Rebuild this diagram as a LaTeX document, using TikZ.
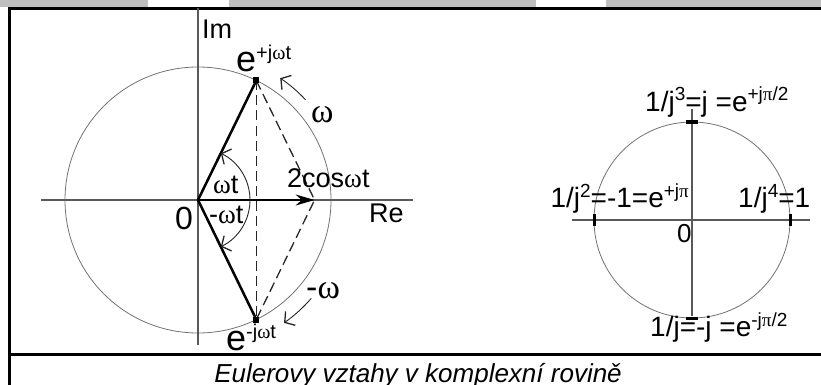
\documentclass[tikz,border=0pt]{standalone}
\usepackage{fontspec}
\setmainfont{Liberation Sans}
\newfontfamily\grk{Liberation Serif}
\usetikzlibrary{arrows.meta,calc}
\newcommand{\om}{{\grk ω}}
\newcommand{\pigr}{{\grk π}}
\newcommand{\hi}[2]{\raisebox{#1pt}{\fontsize{19}{19}\selectfont #2}}
\tikzset{
  lbl/.style={inner sep=0pt,anchor=base west,font=\fontsize{27}{30}\selectfont},
  rlbl/.style={lbl,font=\fontsize{28}{30}\selectfont},
  axis/.style={draw=black!65,line width=1.1pt},
  circ/.style={draw=black!55,line width=0.8pt},
  vec/.style={line width=2.5pt,line cap=round},
  dsh/.style={line width=1.3pt,dash pattern=on 10pt off 5pt,draw=black!85},
  dot/.style={fill,rectangle,minimum size=6pt,inner sep=0pt},
  arcarr/.style={draw=black!85,line width=0.9pt,-{Straight Barb[length=7pt,width=17pt,line width=1.3pt]}},
  tickm/.style={line width=3pt},
}
\begin{document}
\begin{tikzpicture}[x=1pt,y=-1pt]
  \useasboundingbox (0,0) rectangle (821,385);
  % strip from the page above
  \fill[black!25] (0,0) rectangle (148,7);
  \fill[black!25] (229,0) rectangle (536,7);
  \fill[black!25] (606,0) rectangle (821,7);

  % frame
  \draw[line width=3pt] (9.5,7) -- (9.5,385);
  \draw[line width=3pt] (8,8.5) -- (821,8.5);
  \draw[line width=3pt] (8,354) -- (821,354);

  % left picture
  \coordinate (O) at (198,200);
  \coordinate (P) at (256.3,80.5);
  \coordinate (Q) at (256.3,319.5);
  \coordinate (C) at (314.6,200);
  \draw[circ] (O) circle[radius=133];
  \draw[axis] (41,200) -- (413,200);
  \draw[axis] (198,8.5) -- (198,345);
  \node[lbl] (im) at (202,39) {Im};
  \node[lbl] (re) at (369,222) {Re};
  \node[lbl,font=\fontsize{32}{32}\selectfont] (nula) at (175,229) {0};

  \draw[dsh] (P) -- (Q);
  \draw[dsh] (P) -- (C) -- (Q);
  \draw[vec] (O) -- (P);
  \draw[vec] (O) -- (Q);
  \draw[line width=1.2pt,-{Stealth[length=19pt,width=11pt]}] (O) -- (C);
  \node[dot] (pd) at (P) {};
  \node[dot] (qd) at (Q) {};

  \draw[arcarr] ([shift={(0:52)}]O) arc[start angle=0,end angle=-64,radius=52];
  \draw[arcarr] ([shift={(0:52)}]O) arc[start angle=0,end angle=64,radius=52];
  \draw[arcarr] ([shift={(-43:147)}]O) arc[start angle=-43,end angle=-56,radius=147];
  \draw[arcarr] ([shift={(41:150)}]O) arc[start angle=41,end angle=55,radius=150];

  \node[lbl] (wt) at (213,193) {\om t};
  \node[lbl] (mwt) at (209,223) {-\om t};
  \node[lbl] (cos) at (287,187) {2cos\om t};
  \node[lbl,font=\fontsize{34}{34}\selectfont] (w) at (311,122) {\om};
  \node[lbl,font=\fontsize{34}{34}\selectfont] (mw) at (306,298) {-\om};
  \node[lbl,font=\fontsize{36}{36}\selectfont] (ep) at (236,72)
    {e\raisebox{12pt}{\fontsize{20}{20}\selectfont +j\om t}};
  \node[lbl,font=\fontsize{36}{36}\selectfont] (em) at (226,350)
    {e\raisebox{12pt}{\fontsize{20}{20}\selectfont -j\om t}};

  % right picture
  \coordinate (O2) at (692,220);
  \draw[circ] (O2) circle[radius=98];
  \draw[axis] (572,220) -- (810,220);
  \draw[axis] (692,109) -- (692,316);
  \foreach \a in {0,90,180,270}
    \draw[tickm] ($(O2)+(\a:98)+(\a+90:6)$) -- ($(O2)+(\a:98)+(\a-90:6)$);
  \node[rlbl] (jt) at (645,111) {1/j\hi{10}{3}=j =e\hi{10}{+j\pigr/2}};
  \node[rlbl,anchor=base east] (jd) at (689,207) {1/j\hi{10}{2}=-1=e\hi{10}{+j\pigr}};
  \node[rlbl] (jc) at (738,207) {1/j\hi{10}{4}=1};
  \node[lbl,font=\fontsize{26}{26}\selectfont] (nula2) at (677,242) {0};
  \node[rlbl] (jj) at (650,336) {1/j=-j =e\hi{10}{-j\pigr/2}};

  % caption
  \node[lbl,anchor=base,font=\fontsize{26}{28}\selectfont\itshape] (cap) at (418,382)
    {Eulerovy vztahy v komplexní rovině};
\end{tikzpicture}
\end{document}
